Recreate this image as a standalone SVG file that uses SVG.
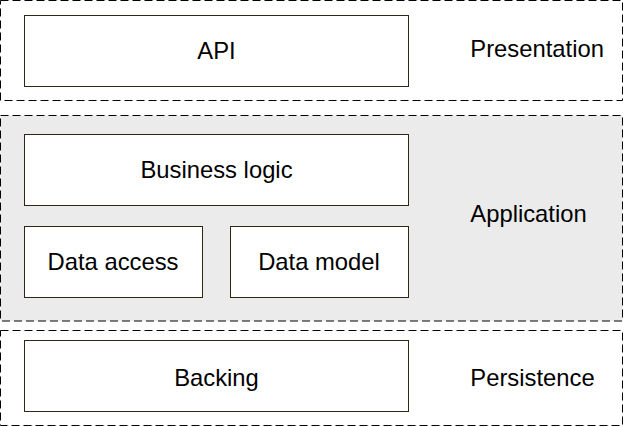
<svg xmlns="http://www.w3.org/2000/svg" width="624" height="427" viewBox="0 0 624 427">
<style>
.band{stroke:#000;stroke-width:1;stroke-dasharray:8 4}
.box{fill:#fff;stroke:#2b2818;stroke-width:1}
text{font-family:"Liberation Sans",Arial,sans-serif;font-size:23.8px;fill:#000}
.c{text-anchor:middle}
</style>
<rect width="624" height="427" fill="#fff"/>
<g id="presentation">
<rect class="band" x="0.5" y="0.5" width="622" height="100" fill="#fff"/>
<text x="470.3" y="57.3">Presentation</text>
</g>
<g id="application">
<rect class="band" x="0.5" y="115.5" width="622" height="205.5" fill="#ebebeb"/>
<text x="470.3" y="222.3">Application</text>
</g>
<g id="persistence">
<rect class="band" x="0.5" y="330.5" width="622" height="95" fill="#fff"/>
<text x="470.3" y="386">Persistence</text>
</g>
<g id="api">
<rect class="box" x="24.5" y="15.5" width="384" height="71"/>
<text class="c" x="216.5" y="59.3">API</text>
</g>
<g id="business-logic">
<rect class="box" x="24.5" y="134.5" width="384" height="71"/>
<text class="c" x="216.5" y="177.5">Business logic</text>
</g>
<g id="data-access">
<rect class="box" x="24.5" y="226.5" width="178" height="71"/>
<text class="c" x="113" y="269.5">Data access</text>
</g>
<g id="data-model">
<rect class="box" x="230.5" y="226.5" width="178" height="71"/>
<text class="c" x="319" y="269.5">Data model</text>
</g>
<g id="backing">
<rect class="box" x="24.5" y="340.5" width="384" height="71"/>
<text class="c" x="216.5" y="386">Backing</text>
</g>
<g id="connectors"></g>
</svg>
